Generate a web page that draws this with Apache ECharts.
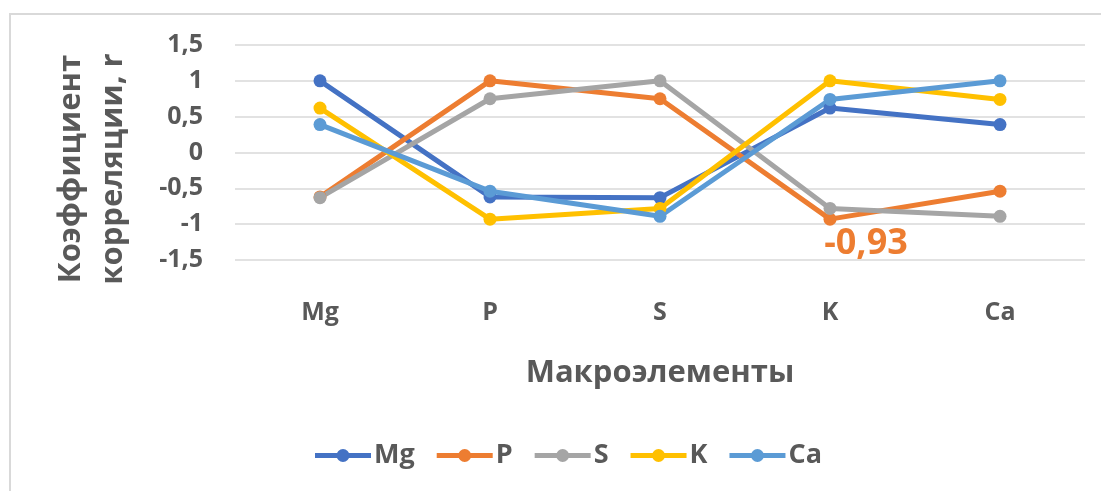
<!DOCTYPE html>
<html>
<head>
<meta charset="utf-8">
<script src="https://cdn.jsdelivr.net/npm/echarts@6/dist/echarts.min.js"></script>
<style>
  html, body { margin: 0; padding: 0; background: #ffffff; }
  #chart { width: 1101px; height: 491px; }
</style>
</head>
<body>
<div id="chart"></div>
<script>
// Macroelements on the category axis
var categories = ['Mg', 'P', 'S', 'K', 'Ca'];

// Correlation coefficients of each element with the others
var mgValues = [1, -0.62, -0.63, 0.62, 0.39];
var pValues  = [-0.62, 1, 0.75, -0.93, -0.54];
var sValues  = [-0.63, 0.75, 1, -0.78, -0.89];
var kValues  = [0.62, -0.93, -0.78, 1, 0.74];
var caValues = [0.39, -0.54, -0.89, 0.74, 1];

// Value axis ticks
var yTicks = [-1.5, -1, -0.5, 0, 0.5, 1, 1.5];

var seriesNames = ['Mg', 'P', 'S', 'K', 'Ca'];
var seriesColors = ['#4472C4', '#ED7D31', '#A5A5A5', '#FFC000', '#5B9BD5'];

var FONT = '"Open Sans", "DejaVu Sans", sans-serif';
var TEXT_GRAY = '#595959';

// Legend key: thick line with a round marker in the middle
var LEGEND_ICON = 'path://M0,4L56,4L56,9L0,9Z M21.5,6.5a6.5,6.5 0 1,1 13,0a6.5,6.5 0 1,1 -13,0Z';

function comma(v) {
  return String(v).replace('.', ',');
}

// P–K coefficient carries its own value label
var pData = pValues.map(function (v, i) {
  if (categories[i] === 'K') {
    return {
      value: v,
      label: {
        show: true,
        position: 'bottom',
        distance: 0,
        offset: [36, 0],
        formatter: function (p) { return comma(p.value); },
        color: '#ED7D31',
        fontFamily: FONT,
        fontWeight: 'bold',
        fontSize: 36
      }
    };
  }
  return v;
});

var seriesData = [mgValues, pData, sValues, kValues, caValues];

var chart = echarts.init(document.getElementById('chart'), null, { renderer: 'canvas' });

chart.setOption({
  animation: false,
  backgroundColor: '#ffffff',
  color: seriesColors,
  textStyle: { fontFamily: FONT },
  grid: { left: 235, right: 16, top: 45, bottom: 231, containLabel: false },
  graphic: [
    {
      type: 'rect',
      shape: { x: 10, y: 14, width: 1200, height: 600 },
      style: { fill: 'none', stroke: '#d9d9d9', lineWidth: 2 },
      silent: true
    },
    {
      type: 'text',
      x: 92,
      y: 169,
      rotation: Math.PI / 2,
      style: {
        text: 'Коэффициент\nкорреляции, r',
        fill: TEXT_GRAY,
        font: 'bold 31px ' + FONT,
        lineHeight: 42,
        align: 'center',
        verticalAlign: 'middle'
      },
      silent: true
    }
  ],
  legend: {
    data: seriesNames.map(function (n) { return { name: n, icon: LEGEND_ICON }; }),
    left: 315,
    top: 442,
    padding: 0,
    itemWidth: 56,
    itemHeight: 13,
    itemGap: 22,
    textStyle: {
      color: TEXT_GRAY,
      fontFamily: FONT,
      fontWeight: 'bold',
      fontSize: 27,
      padding: [0, 0, 0, -2]
    }
  },
  xAxis: {
    type: 'category',
    data: categories,
    boundaryGap: true,
    axisLine: { show: false },
    axisTick: { show: false },
    axisLabel: {
      margin: 40,
      color: TEXT_GRAY,
      fontFamily: FONT,
      fontWeight: 'bold',
      fontSize: 25
    },
    name: 'Макроэлементы',
    nameLocation: 'middle',
    nameGap: 98,
    nameTextStyle: {
      color: TEXT_GRAY,
      fontFamily: FONT,
      fontWeight: 'bold',
      fontSize: 31
    }
  },
  yAxis: {
    type: 'value',
    min: yTicks[0],
    max: yTicks[yTicks.length - 1],
    interval: 0.5,
    axisLine: { show: false },
    axisTick: { show: false },
    splitLine: { lineStyle: { color: '#d9d9d9', width: 1.5 } },
    axisLabel: {
      margin: 32,
      color: TEXT_GRAY,
      fontFamily: FONT,
      fontWeight: 'bold',
      fontSize: 25,
      formatter: function (v) { return comma(v); }
    }
  },
  series: seriesNames.map(function (name, i) {
    return {
      name: name,
      type: 'line',
      data: seriesData[i],
      symbol: 'circle',
      symbolSize: 13,
      showSymbol: true,
      lineStyle: { width: 5, color: seriesColors[i] },
      itemStyle: { color: seriesColors[i] },
      emphasis: { disabled: true }
    };
  })
});
</script>
</body>
</html>
